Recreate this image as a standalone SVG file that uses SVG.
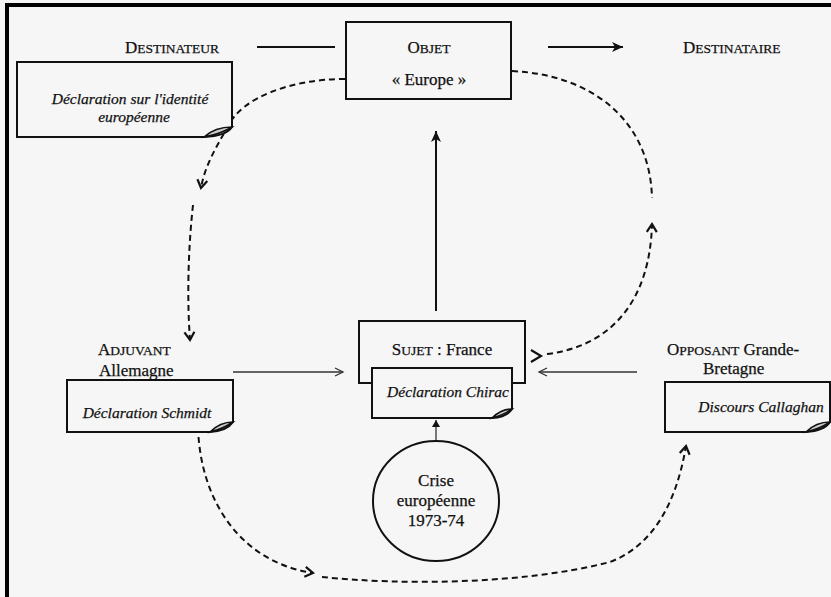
<svg xmlns="http://www.w3.org/2000/svg" width="831" height="597" viewBox="0 0 831 597">
<style>
.bg{fill:#f6f6f6}
.frame{fill:#000}
.box{fill:#f6f6f6;stroke:#111;stroke-width:2}
.curl{fill:#ccc;stroke:#111;stroke-width:1.6}
.lbl{font-family:"Liberation Serif","Times New Roman",serif;font-size:17px;fill:#111;stroke:#111;stroke-width:0.25}
.sc{font-size:13.5px}
.it{font-family:"Liberation Serif","Times New Roman",serif;font-style:italic;font-size:15.5px;fill:#111;stroke:#111;stroke-width:0.25}
.solid{fill:none;stroke:#111;stroke-width:2}
.thin{fill:none;stroke:#333;stroke-width:1.3}
.dash{fill:none;stroke:#111;stroke-width:2;stroke-dasharray:6 4}
</style>
<defs>
<marker id="chev" markerUnits="userSpaceOnUse" markerWidth="16" markerHeight="16" viewBox="-10 -8 12 16" refX="0" refY="0" orient="auto">
<path d="M-8,-5 L0,0 L-8,5" fill="none" stroke="#111" stroke-width="2.2"/>
</marker>
<marker id="thinchev" markerUnits="userSpaceOnUse" markerWidth="16" markerHeight="16" viewBox="-10 -8 12 16" refX="0" refY="0" orient="auto">
<path d="M-8,-4 L0,0 L-8,4" fill="none" stroke="#333" stroke-width="1.3"/>
</marker>
<marker id="head" markerUnits="userSpaceOnUse" markerWidth="16" markerHeight="16" viewBox="-12 -8 14 16" refX="0" refY="0" orient="auto">
<path d="M-11,-5 L0,0 L-11,5 L-8,0 Z" fill="#111"/>
</marker>
<marker id="tri" markerUnits="userSpaceOnUse" markerWidth="12" markerHeight="12" viewBox="-8 -6 10 12" refX="0" refY="0" orient="auto">
<path d="M-7,-4 L0,0 L-7,4 Z" fill="#111"/>
</marker>
</defs>
<rect class="bg" x="0" y="0" width="831" height="597"/>
<rect class="frame" x="5" y="3" width="826" height="4"/>
<rect class="frame" x="5" y="3" width="4" height="594"/>

<g id="connectors">
<line class="solid" x1="257" y1="47" x2="335" y2="47"/>
<line class="solid" x1="548" y1="47" x2="623" y2="47" marker-end="url(#head)"/>
<line class="solid" x1="436" y1="311" x2="436" y2="131" marker-end="url(#head)"/>
<line class="thin" x1="233" y1="372" x2="343" y2="372" marker-end="url(#thinchev)"/>
<line class="thin" x1="637" y1="372" x2="539" y2="372" marker-end="url(#thinchev)"/>
<line class="thin" x1="436" y1="440" x2="436" y2="420" marker-end="url(#tri)"/>
<path class="dash" d="M345,79 C290,79 242,98 228,126 C216,148 205,165 201,188" marker-end="url(#chev)"/>
<path class="dash" d="M193,205 C188,250 187,300 190,340" marker-end="url(#chev)"/>
<path class="dash" d="M512,71 C592,75 650,120 652,198"/>
<path class="dash" d="M547,354 C612,346 650,300 652,224" marker-end="url(#chev)"/>
<path d="M531,350 L541,356 L531,362" fill="none" stroke="#111" stroke-width="2.2"/>
<path class="dash" d="M198,427 C200,500 240,562 313,573" marker-end="url(#chev)"/>
<path class="dash" d="M322,577 C400,585 520,585 610,562 C652,546 676,505 686,446" marker-end="url(#chev)"/>
</g>

<g id="destinateur">
<text class="lbl" x="125" y="53">D<tspan class="sc">ESTINATEUR</tspan></text>
<path class="box" d="M17,62 H232 V127 Q226,136 204,137 H17 Z"/>
<path class="curl" d="M204,137 Q215,127 232,127 Q221,134 204,137 Z"/>
<text class="it" x="130" y="104" text-anchor="middle">Déclaration sur l'identité</text>
<text class="it" x="134" y="122" text-anchor="middle">européenne</text>
</g>

<g id="objet">
<rect class="box" x="346" y="22" width="165" height="77"/>
<text class="lbl" x="429" y="53" text-anchor="middle">O<tspan class="sc">BJET</tspan></text>
<text class="lbl" x="429" y="85" text-anchor="middle">« Europe »</text>
</g>

<g id="destinataire">
<text class="lbl" x="683" y="53">D<tspan class="sc">ESTINATAIRE</tspan></text>
</g>

<g id="adjuvant">
<text class="lbl" x="98" y="355">A<tspan class="sc">DJUVANT</tspan></text>
<text class="lbl" x="99" y="376">Allemagne</text>
<path class="box" d="M67,380 H233 V422 Q227,431 210,432 H67 Z"/>
<path class="curl" d="M210,432 Q220,422 233,422 Q223,429 210,432 Z"/>
<text class="it" x="147" y="418" text-anchor="middle">Déclaration Schmidt</text>
</g>

<g id="sujet">
<rect class="box" x="359" y="321" width="166" height="62"/>
<text class="lbl" x="442" y="355" text-anchor="middle">S<tspan class="sc">UJET</tspan> : France</text>
<path class="box" d="M372,368 H512 V409 Q507,417 492,418 H372 Z"/>
<path class="curl" d="M492,418 Q501,409 512,409 Q504,415 492,418 Z"/>
<text class="it" x="448" y="397" text-anchor="middle">Déclaration Chirac</text>
</g>

<g id="opposant">
<text class="lbl" x="667" y="355">O<tspan class="sc">PPOSANT</tspan> Grande-</text>
<text class="lbl" x="703" y="374">Bretagne</text>
<path class="box" d="M665,382 H830 V422 Q824,431 806,432 H665 Z"/>
<path class="curl" d="M806,432 Q816,422 830,422 Q820,429 806,432 Z"/>
<text class="it" x="761" y="412" text-anchor="middle">Discours Callaghan</text>
</g>

<g id="crise">
<ellipse class="box" cx="436" cy="501" rx="63" ry="60"/>
<text class="lbl" x="436" y="486" text-anchor="middle">Crise</text>
<text class="lbl" x="436" y="506" text-anchor="middle">européenne</text>
<text class="lbl" x="436" y="526" text-anchor="middle">1973-74</text>
</g>
</svg>
